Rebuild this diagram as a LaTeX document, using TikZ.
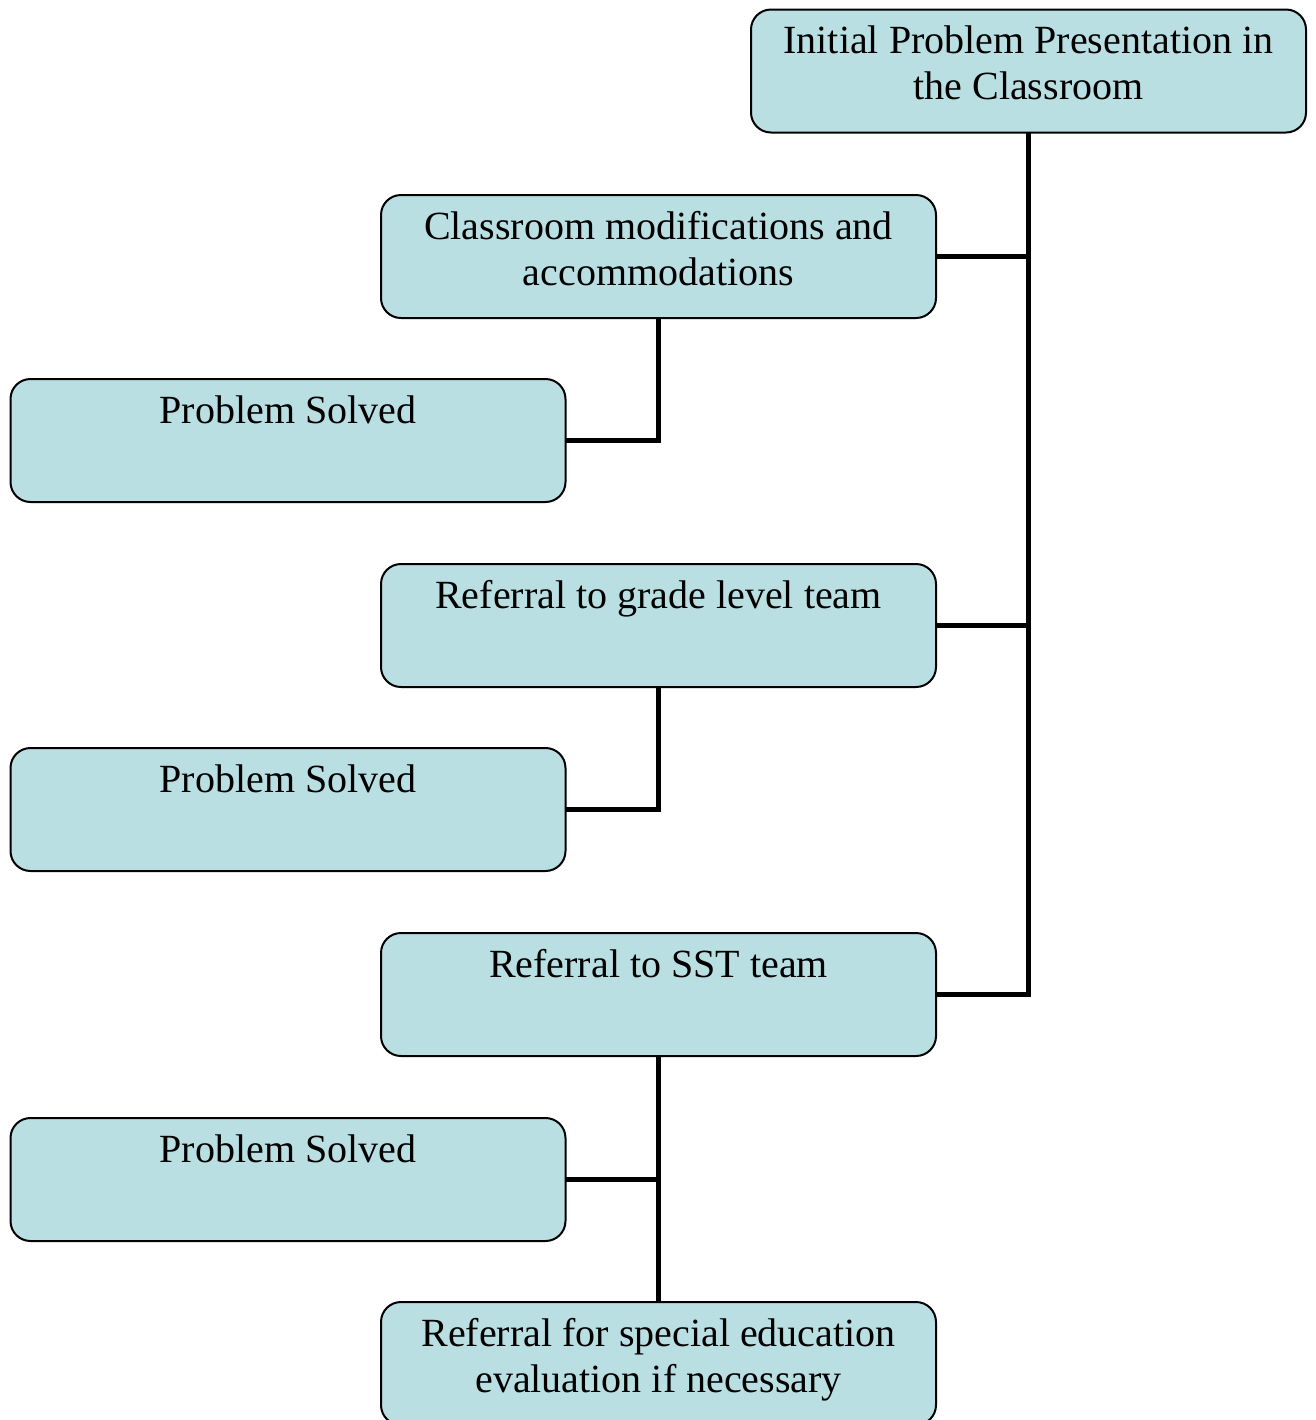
\documentclass[tikz,border=0pt]{standalone}
\usepackage{fontspec}
\setmainfont{Liberation Serif}
\begin{document}
\begin{tikzpicture}[x=0.5pt,y=-0.5pt,
  box/.style={draw=black, line width=1pt, fill=boxfill, rounded corners=10pt,
    minimum width=277.5pt, minimum height=61.5pt, inner sep=0pt, outer sep=0pt},
  lbl/.style={anchor=north, inner sep=0pt, align=center,
    font=\fontsize{20pt}{23pt}\selectfont},
  conn/.style={draw=black, line width=2.25pt}]
\definecolor{boxfill}{RGB}{186,223,226}
\useasboundingbox (0,0) rectangle (1316,1420);
\clip (0,0) rectangle (1316,1420);
\node[box] (A) at (1028.5,71) {};
\node[box] (B) at (658.5,256.5) {};
\node[box] (C) at (288,440.5) {};
\node[box] (D) at (658.5,625.5) {};
\node[box] (E) at (288,809.5) {};
\node[box] (F) at (658.5,994.5) {};
\node[box] (G) at (288,1179.5) {};
\node[box] (H) at (658.5,1363.5) {};
\node[lbl] (tA) at ([yshift=-8pt]A.north) {Initial Problem Presentation in\\the Classroom};
\node[lbl] (tB) at ([yshift=-8pt]B.north) {Classroom modifications and\\accommodations};
\node[lbl] (tC) at ([yshift=-8pt]C.north) {Problem Solved};
\node[lbl] (tD) at ([yshift=-8pt]D.north) {Referral to grade level team};
\node[lbl] (tE) at ([yshift=-8pt]E.north) {Problem Solved};
\node[lbl] (tF) at ([yshift=-8pt]F.north) {Referral to SST team};
\node[lbl] (tG) at ([yshift=-8pt]G.north) {Problem Solved};
\node[lbl] (tH) at ([yshift=-8pt]H.north) {Referral for special education\\evaluation if necessary};
\draw[conn] (A.south) |- (F.east);
\draw[conn] (B.east) -- (B.east -| A.south);
\draw[conn] (D.east) -- (D.east -| A.south);
\draw[conn] (B.south) |- (C.east);
\draw[conn] (D.south) |- (E.east);
\draw[conn] (F.south) -- (H.north);
\draw[conn] (G.east) -- (G.east -| F.south);
\end{tikzpicture}
\end{document}
